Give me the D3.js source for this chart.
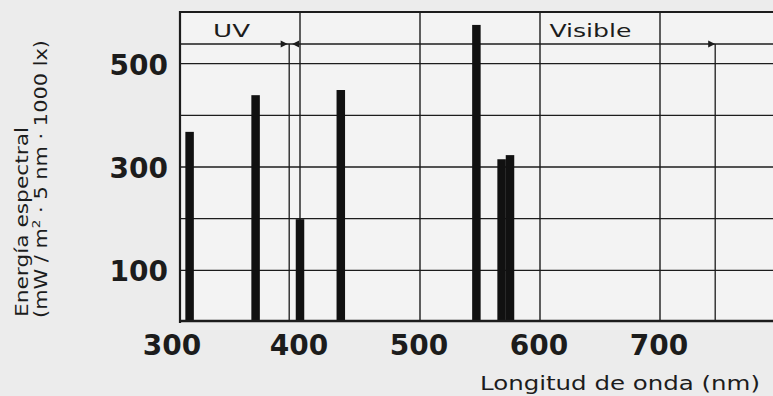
<!DOCTYPE html>
<html><head><meta charset="utf-8">
<script src="https://cdn.jsdelivr.net/npm/d3@7"></script>
<style>
html,body{margin:0;padding:0;background:#ececec;}
svg{display:block;}
</style></head>
<body>
<svg id="chart" width="773" height="396"></svg>
<script>
// ---- data ----
const wavelengths = [308, 363, 400, 434, 547, 568, 575];   // nm
const energies    = [368, 439, 199, 449, 575, 315, 323];   // mW/m² · 5 nm · 1000 lx
const xTickValues = [300, 400, 500, 600, 700];
const xTickLabels = ["300", "400", "500", "600", "700"];
const yTickValues = [100, 300, 500];
const yTickLabels = ["100", "300", "500"];
const xGridValues = [400, 500, 600, 700, 800];
const yGridValues = [100, 200, 300, 400, 500];
const bandNames   = ["UV", "Visible"];
const bandStarts  = [300, 393];
const bandEnds    = [391, 746];
const bandLabelAt = [343, 642];
const bandLevel   = 538;
const xTitle = "Longitud de onda (nm)";
const yTitle1 = "Energía espectral";

// ---- layout ----
const svg = d3.select("#chart");
const W = 773, H = 396;
const x = d3.scaleLinear().domain([300, 800]).range([180, 780]);
const y = d3.scaleLinear().domain([0, 600]).range([322, 12]);
const ink = "#1c1c1c";
const barW = 8.5;

svg.append("rect").attr("width", W).attr("height", H).attr("fill", "#ececec");
svg.append("rect").attr("x", x(300)).attr("y", y(600)).attr("width", W - x(300)).attr("height", y(0) - y(600)).attr("fill", "#f3f3f3");

// grid
svg.append("g").selectAll("line").data(yGridValues).join("line")
  .attr("x1", x(300)).attr("x2", x(800)).attr("y1", d => y(d)).attr("y2", d => y(d))
  .attr("stroke", ink).attr("stroke-width", 1.4);
svg.append("g").selectAll("line").data(xGridValues).join("line")
  .attr("x1", d => x(d)).attr("x2", d => x(d)).attr("y1", y(600)).attr("y2", y(0))
  .attr("stroke", ink).attr("stroke-width", 1.4);

// band line
svg.append("line").attr("x1", x(300)).attr("x2", x(800)).attr("y1", y(bandLevel)).attr("y2", y(bandLevel))
  .attr("stroke", ink).attr("stroke-width", 1.4);

// band boundaries (vertical lines from band line down)
svg.append("g").selectAll("line").data(bandEnds).join("line")
  .attr("x1", d => x(d)).attr("x2", d => x(d)).attr("y1", y(bandLevel)).attr("y2", y(0))
  .attr("stroke", ink).attr("stroke-width", 1.3);

// arrowheads
const ay = y(bandLevel);
const heads = [
  {tip: x(bandEnds[0]) - 1.5, dir: 1},
  {tip: x(bandStarts[1]) + 0.5, dir: -1},
  {tip: x(bandEnds[1]), dir: 1}
];
svg.append("g").selectAll("path").data(heads).join("path")
  .attr("d", d => `M${d.tip},${ay} L${d.tip - d.dir * 7},${ay - 3.5} L${d.tip - d.dir * 7},${ay + 3.5} Z`)
  .attr("fill", ink);

// band labels
svg.append("g").selectAll("text").data(bandNames).join("text")
  .attr("x", (d, i) => x(bandLabelAt[i])).attr("y", 37)
  .attr("text-anchor", "middle")
  .attr("font-family", "DejaVu Sans").attr("font-size", 17).attr("fill", ink)
  .attr("textLength", (d, i) => i === 0 ? 37 : 82).attr("lengthAdjust", "spacingAndGlyphs")
  .text(d => d);

// bars
svg.append("g").selectAll("rect").data(wavelengths).join("rect")
  .attr("x", d => x(d) - barW / 2).attr("width", barW)
  .attr("y", (d, i) => y(energies[i])).attr("height", (d, i) => y(0) - y(energies[i]))
  .attr("fill", "#111");

// frame
svg.append("line").attr("x1", x(300)).attr("x2", x(300)).attr("y1", y(600) - 1).attr("y2", y(0) + 1)
  .attr("stroke", ink).attr("stroke-width", 2.2);
svg.append("line").attr("x1", x(300)).attr("x2", W).attr("y1", y(600)).attr("y2", y(600))
  .attr("stroke", ink).attr("stroke-width", 2.2);
svg.append("line").attr("x1", x(300)).attr("x2", W).attr("y1", y(0) - 1).attr("y2", y(0) - 1)
  .attr("stroke", ink).attr("stroke-width", 2.4);

// x tick labels
svg.append("g").selectAll("text").data(xTickValues).join("text")
  .attr("x", (d, i) => x(d) + (i === 0 ? -8 : -1)).attr("y", 355)
  .attr("text-anchor", "middle")
  .attr("font-family", "DejaVu Sans").attr("font-weight", "bold").attr("font-size", 28).attr("fill", ink)
  .text((d, i) => xTickLabels[i]);

// y tick labels
svg.append("g").selectAll("text").data(yTickValues).join("text")
  .attr("x", 168).attr("y", d => y(d) + 11)
  .attr("text-anchor", "end")
  .attr("font-family", "DejaVu Sans").attr("font-weight", "bold").attr("font-size", 28).attr("fill", ink)
  .text((d, i) => yTickLabels[i]);

// x title
svg.append("text").attr("x", 480).attr("y", 390)
  .attr("font-family", "DejaVu Sans").attr("font-size", 19).attr("fill", ink)
  .attr("textLength", 280).attr("lengthAdjust", "spacingAndGlyphs")
  .text(xTitle);

// y title
const yt = svg.append("g");
yt.append("text").attr("transform", "translate(28,317) rotate(-90)")
  .attr("font-family", "DejaVu Sans").attr("font-size", 17).attr("fill", ink)
  .attr("textLength", 190).attr("lengthAdjust", "spacingAndGlyphs")
  .text(yTitle1);
const t2 = yt.append("text").attr("transform", "translate(47,318) rotate(-90)")
  .attr("font-family", "DejaVu Sans").attr("font-size", 17).attr("fill", ink)
  .attr("textLength", 278).attr("lengthAdjust", "spacingAndGlyphs");
t2.append("tspan").text("(mW / m");
t2.append("tspan").attr("dy", -7).attr("font-size", 11).text("2");
t2.append("tspan").attr("dy", 7).text(" · 5 nm · 1000 lx)");
</script>
</body></html>
